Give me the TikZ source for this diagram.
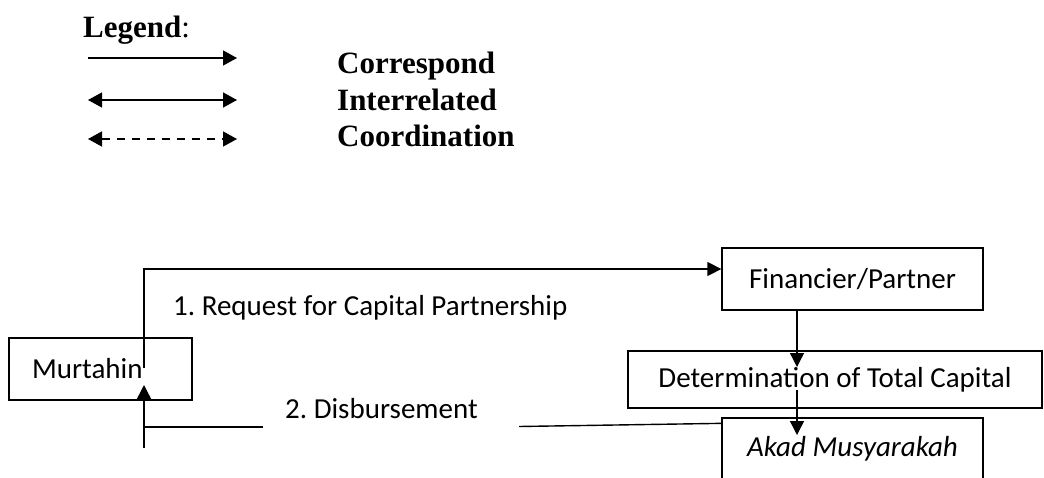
\documentclass[tikz,border=0pt]{standalone}
\usepackage{fontspec}
\setmainfont{Liberation Serif}
\newfontfamily\calfont{Carlito}
\usetikzlibrary{arrows.meta}
\frenchspacing
\tikzset{
  box/.style={draw, line width=1.3pt, inner sep=0pt, font=\calfont\fontsize{29}{35}\selectfont},
  lbl/.style={inner sep=0pt, font=\calfont\fontsize{29}{35}\selectfont},
  legtxt/.style={inner sep=0pt, anchor=base west, font=\bfseries\fontsize{31}{37}\selectfont},
  conn/.style={line width=1.4pt},
  arr/.style={conn, -{Triangle[length=14pt,width=14pt]}},
  legline/.style={line width=1.4pt},
  legtip/.tip={Triangle[length=14pt,width=15pt]}
}
\begin{document}
\begin{tikzpicture}[x=1pt,y=-1pt]
\frenchspacing
\useasboundingbox[fill=white] (0,0) rectangle (1044,477);
% legend
\node[legtxt] (leg) at (83,37) {Legend\textmd{:}};
\coordinate (l1a) at (88,58);  \coordinate (l1b) at (237,58);
\coordinate (l2a) at (88,100); \coordinate (l2b) at (237,100);
\coordinate (l3a) at (88,139); \coordinate (l3b) at (237,139);
\draw[legline, -legtip] (l1a) -- (l1b);
\draw[legline, legtip-legtip] (l2a) -- (l2b);
\draw[legline, dash pattern=on 8pt off 7pt, legtip-legtip] (l3a) -- (l3b);
\node[legtxt] (t1) at (337,73) {Correspond};
\node[legtxt] (t2) at (337,110) {Interrelated};
\node[legtxt] (t3) at (337,146) {Coordination};
% boxes
\node[box, minimum height=62pt, text width=137pt, inner xsep=23pt, align=left] (mur) at (100.5,369) {Murtahin};
\node[box, minimum width=261pt, minimum height=62pt] (fin) at (852.5,279) {Financier/Partner};
\node[box, minimum width=414pt, minimum height=57pt] (det) at (835,379.5) {Determination of Total Capital};
\node[box, minimum width=261pt, minimum height=62pt] (akad) at (852.5,449) {\itshape Akad Musyarakah};
% labels
\node[lbl, anchor=base west] (req) at (173,315) {1. Request for Capital Partnership};
\node[lbl, anchor=base west] (dis) at (285,418) {2. Disbursement};
% connectors
\coordinate (m1) at (144,368);
\draw[arr] (m1) |- ([yshift=10pt]fin.west);
\coordinate (d1) at (519,426.5);
\coordinate (d2) at (263,427);
\coordinate (d3) at (144,427);
\coordinate (d4) at (144,448);
\coordinate (m2) at (144,385);
\draw[conn] ([yshift=-6pt]akad.north west) -- (d1);
\draw[conn] (d2) -- (d3);
\draw[arr] (d4) -- (m2);
\coordinate (f1) at (797,367);
\draw[arr] (fin.south -| f1) -- (f1);
\coordinate (s2) at (797,390);
\coordinate (f2) at (797,435);
\draw[arr] (s2) -- (f2);
\end{tikzpicture}
\end{document}
